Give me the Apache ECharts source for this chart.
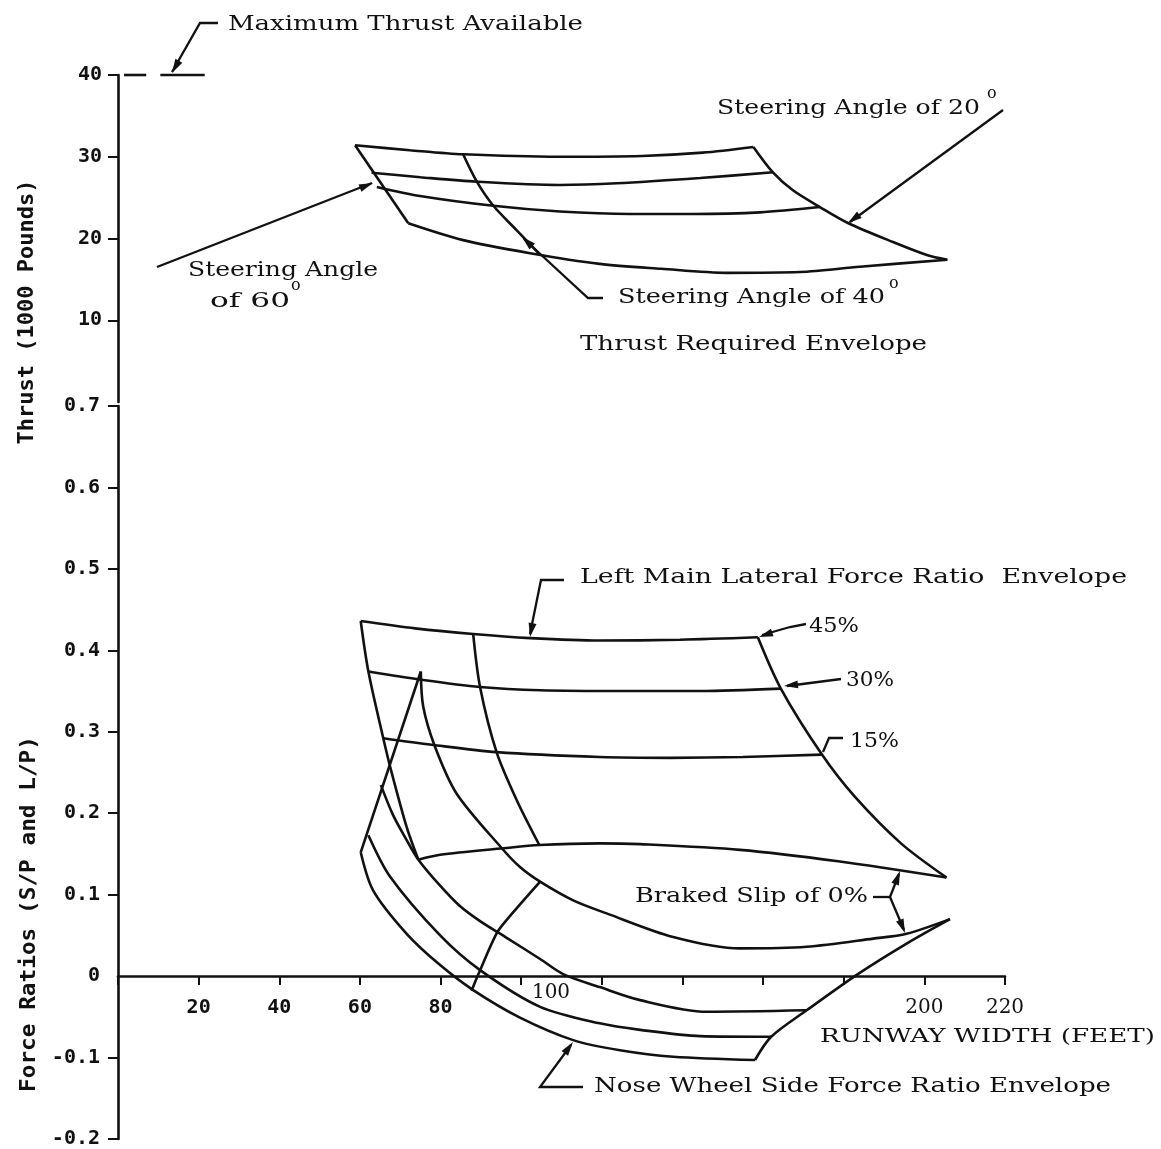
<!DOCTYPE html>
<html>
<head>
<meta charset="utf-8">
<title>Thrust and force ratio envelopes vs runway width</title>
<script src="https://cdn.jsdelivr.net/npm/echarts@6/dist/echarts.min.js"></script>
<style>
  html, body { margin: 0; background: #fff; }
  #main { width: 1161px; height: 1149px; }
</style>
</head>
<body>
<div id="main"></div>
<script>
// ---- axis ticks / labels ----
var thrustTicks = [10, 20, 30, 40];
var ratioTicks = [-0.2, -0.1, 0.1, 0.2, 0.3, 0.4, 0.5, 0.6, 0.7];
var ratioLabels = [-0.2, -0.1, 0, 0.1, 0.2, 0.3, 0.4, 0.5, 0.6, 0.7];
var widthLabels = [20, 40, 60, 80, 200, 220];
var widthLabelOffset = 100; // printed a bit off its tick in the original

// ---- thrust required envelope: [runway width ft, thrust 1000 lb] ----
var maxThrustDash = [[1.5, 40], [7, 40]];
var maxThrustSolid = [[10.5, 40], [21.5, 40]];
var thrustA = [[58.8, 31.4], [72.4, 30.8], [85.6, 30.3], [109.6, 30.0], [130, 30.1], [145, 30.5], [157.6, 31.2]];
var thrustB = [[62.9, 28.05], [75, 27.5], [89.0, 26.95], [109.6, 26.55], [123.7, 26.75], [144.4, 27.4], [162.5, 28.1]];
var thrustC = [[64.2, 26.3], [74.9, 25.2], [93.1, 24.0], [109.6, 23.3], [127, 23.0], [142.6, 23.0], [159.2, 23.2], [174.1, 23.85]];
var thrustD = [[72.0, 21.86], [85.6, 19.8], [102.2, 18.2], [119.5, 16.9], [134.7, 16.3], [151, 15.8], [169.2, 15.9], [184, 16.55], [205.7, 17.4]];
var steer60 = [[58.8, 31.4], [72.0, 21.86]];
var steer40 = [[85.6, 30.3], [89.0, 26.95], [93.1, 24.0], [98.9, 21.0], [104.7, 18.0]];
var steer20 = [[157.6, 31.2], [162.5, 28.05], [167.4, 25.9], [174.1, 23.85], [181.05, 21.9], [192.2, 19.57], [200.6, 17.98], [205.7, 17.4]];

// ---- left main lateral force ratio envelope: [runway width ft, ratio] ----
var lat45 = [[60.2, 0.436], [73.7, 0.427], [88.1, 0.420], [102.2, 0.415], [119.5, 0.412], [139.4, 0.413], [158.7, 0.416]];
var lat30 = [[62.1, 0.374], [75.1, 0.364], [89.8, 0.355], [104.7, 0.351], [125.5, 0.350], [144.4, 0.350], [164.4, 0.353]];
var lat15 = [[65.8, 0.292], [77.8, 0.284], [93.9, 0.275], [119.5, 0.269], [136.9, 0.268], [155, 0.269], [174.6, 0.272]];
var latSlip0 = [[74.5, 0.143], [79.9, 0.149], [95.6, 0.157], [104.5, 0.161], [119.5, 0.163], [129.5, 0.162], [154.3, 0.155], [178.6, 0.141], [205.5, 0.121]];
var latLeft = [[60.2, 0.436], [62.1, 0.374], [65.8, 0.292], [67.5, 0.257], [71.6, 0.183], [74.5, 0.143]];
var latMid = [[88.1, 0.420], [89.8, 0.355], [93.9, 0.275], [98.9, 0.216], [104.5, 0.161]];
var latRight = [[158.7, 0.416], [164.4, 0.353], [174.6, 0.272], [182.8, 0.220], [194.2, 0.163], [205.5, 0.121]];

// ---- nose wheel side force ratio envelope ----
var noseLeg = [[75.1, 0.374], [60.2, 0.152]];
var noseSlip0 = [[75.1, 0.374], [75.7, 0.331], [78.6, 0.282], [84.0, 0.224], [95.2, 0.157], [99.7, 0.134], [104.7, 0.116], [112.9, 0.093], [121.2, 0.077], [137.7, 0.048], [154.3, 0.034], [170.8, 0.036], [187.3, 0.046], [195.6, 0.052], [206.35, 0.070]];
var noseArc1 = [[65.2, 0.2345], [68.2, 0.198], [71.6, 0.167], [74.5, 0.143], [79.9, 0.111], [84.8, 0.086], [89.8, 0.0675], [96.5, 0.0467], [104.7, 0.021], [110.4, 0.0025], [119.5, -0.0135], [129.5, -0.0295], [146.0, -0.0438], [170.8, -0.042]];
var noseArc2 = [[62.1, 0.173], [67.5, 0.122], [79.9, 0.050], [89.8, 0.0074], [104.7, -0.0377], [119.5, -0.058], [129.5, -0.066], [144.4, -0.0737], [162.0, -0.0745]];
var noseArc3 = [[60.2, 0.152], [63.3, 0.105], [71.6, 0.052], [79.9, 0.0135], [88.1, -0.0172], [99.7, -0.051], [112.9, -0.0786], [124.5, -0.091], [137.7, -0.099], [158.0, -0.103]];
var noseRight = [[206.35, 0.070], [195.6, 0.040], [183.5, 0.0025], [170.8, -0.042], [162.0, -0.0745], [158.0, -0.103]];
var noseSteer = [[104.7, 0.116], [96.4, 0.069], [93.9, 0.0524], [89.4, 0.0025], [87.7, -0.018]];

var INK = '#111';
var MONO = "'DejaVu Sans Mono'";
var SERIF = "'DejaVu Serif'";

// lower panel geometry: 0.7 at the top, -0.2 at the bottom
var RATIO_TOP = 406, RATIO_H = 733;
var zeroLift = RATIO_H * 0.2 / 0.9; // distance from panel bottom up to the zero line

var chart = echarts.init(document.getElementById('main'));

function curve(data, idx, smooth) {
  return {
    type: 'line', xAxisIndex: idx, yAxisIndex: idx, data: data,
    smooth: smooth === undefined ? 0.3 : smooth,
    symbol: 'none', clip: false, silent: true,
    lineStyle: { color: INK, width: 2.6 }
  };
}

// text stretched to the width it has in the original scan
var measureCtx = document.createElement('canvas').getContext('2d');
function label(str, left, cy, width, size, family, weight) {
  var font = (weight || 'normal') + ' ' + size + 'px ' + family;
  measureCtx.font = font;
  var w = measureCtx.measureText(str).width;
  return {
    type: 'text', x: left, y: cy, scaleX: width ? width / w : 1, silent: true,
    style: { text: str, x: 0, y: 0, font: font, fill: INK,
      align: 'left', verticalAlign: 'middle', textAlign: 'left', textVerticalAlign: 'middle' }
  };
}
function vlabel(str, cx, cy, length, size) {
  var font = 'bold ' + size + 'px ' + MONO;
  measureCtx.font = font;
  var w = measureCtx.measureText(str).width;
  return {
    type: 'text', x: cx, y: cy, rotation: Math.PI / 2, scaleX: length / w, silent: true,
    style: { text: str, x: 0, y: 0, font: font, fill: INK,
      align: 'center', verticalAlign: 'middle', textAlign: 'center', textVerticalAlign: 'middle' }
  };
}
function leader(points) {
  return { type: 'polyline', silent: true, shape: { points: points },
    style: { stroke: INK, lineWidth: 2.3, fill: null } };
}
function arrow(tip, from) {
  var dx = tip[0] - from[0], dy = tip[1] - from[1];
  var d = Math.sqrt(dx * dx + dy * dy), ux = dx / d, uy = dy / d;
  var bx = tip[0] - ux * 14, by = tip[1] - uy * 14, h = 4;
  return { type: 'polygon', silent: true,
    shape: { points: [tip, [bx - uy * h, by + ux * h], [bx + uy * h, by - ux * h]] },
    style: { fill: INK } };
}

var graphics = [
  // axis titles
  vlabel('Thrust (1000 Pounds)', 27, 312, 265, 22),
  vlabel('Force Ratios (S/P and L/P)', 29, 914, 356, 22),
  // maximum thrust
  leader([[218, 23], [200, 23], [172, 72]]), arrow([172, 73], [186, 48]),
  label('Maximum Thrust Available', 228, 25, 355, 20, SERIF),
  // steering angle 20
  label('Steering Angle of 20', 717, 109, 263, 20, SERIF),
  label('o', 987, 94, 0, 16, SERIF),
  leader([[1003, 110], [850, 222]]), arrow([848, 223], [880, 200]),
  // steering angle 60
  label('Steering Angle', 188, 271, 190, 20, SERIF),
  label('of 60', 210, 302, 80, 20, SERIF),
  label('o', 291, 286, 0, 16, SERIF),
  leader([[157, 267], [372, 183]]), arrow([373, 183], [340, 196]),
  // steering angle 40
  label('Steering Angle of 40', 618, 298, 267, 20, SERIF),
  label('o', 889, 284, 0, 16, SERIF),
  leader([[603, 298], [588, 298], [524, 239]]), arrow([522, 237], [550, 263]),
  label('Thrust Required Envelope', 580, 345, 347, 20, SERIF),
  // lateral force envelope
  label('Left Main Lateral Force Ratio  Envelope', 580, 578, 547, 20, SERIF),
  leader([[564, 580], [541, 580], [530, 634]]), arrow([530, 637], [535, 610]),
  label('45%', 809, 627, 50, 20, SERIF),
  leader([[806, 624], [790, 627], [762, 635]]), arrow([759, 637], [780, 630]),
  label('30%', 846, 681, 48, 20, SERIF),
  leader([[841, 679], [787, 686]]), arrow([784, 686], [810, 683]),
  label('15%', 850, 742, 49, 20, SERIF),
  leader([[843, 738], [829, 738], [823, 752]]),
  label('Braked Slip of 0%', 635, 897, 233, 20, SERIF),
  leader([[873, 897], [890, 897]]),
  leader([[890, 897], [899, 874]]), arrow([900, 871], [893, 890]),
  leader([[890, 897], [904, 930]]), arrow([905, 933], [897, 913]),
  // nose wheel envelope
  label('Nose Wheel Side Force Ratio Envelope', 594, 1087, 517, 20, SERIF),
  leader([[583, 1087], [540, 1087], [571, 1045]]), arrow([573, 1042], [560, 1060]),
  label('RUNWAY WIDTH (FEET)', 820, 1037, 335, 19, SERIF),
  // the 100 label sits off its tick
  { type: 'text', x: 551, y: 993, silent: true,
    style: { text: String(widthLabelOffset), font: '20px ' + SERIF, fill: INK,
      align: 'center', verticalAlign: 'middle', textAlign: 'center', textVerticalAlign: 'middle' } }
];

function axisLine(onZero) {
  return { show: true, onZero: onZero, lineStyle: { color: INK, width: 2.6 } };
}

var option = {
  animation: false,
  backgroundColor: '#fff',
  grid: [
    { left: 118, top: 75, width: 887, height: 327, outerBoundsMode: 'none', containLabel: false },
    { left: 118, top: RATIO_TOP, width: 887, height: RATIO_H, outerBoundsMode: 'none', containLabel: false }
  ],
  xAxis: [
    { gridIndex: 0, type: 'value', min: 0, max: 220, show: false },
    { gridIndex: 1, type: 'value', min: 0, max: 220, interval: 20,
      position: 'bottom', offset: -zeroLift,
      axisLine: axisLine(false),
      axisTick: { show: true, length: 9, lineStyle: { color: INK, width: 2 } },
      axisLabel: { customValues: widthLabels, margin: 22, color: INK,
        formatter: function (v) { return v >= 200 ? '{b|' + v + '}' : '{a|' + v + '}'; },
        rich: {
          a: { fontFamily: MONO, fontWeight: 'bold', fontSize: 20, color: INK },
          b: { fontFamily: SERIF, fontSize: 20, color: INK }
        } },
      splitLine: { show: false } }
  ],
  yAxis: [
    { gridIndex: 0, type: 'value', min: 0, max: 40, interval: 10,
      axisLine: axisLine(false),
      axisTick: { show: true, customValues: thrustTicks, length: 10, lineStyle: { color: INK, width: 2 } },
      axisLabel: { customValues: thrustTicks, margin: 16, fontFamily: MONO, fontWeight: 'bold', fontSize: 20, color: INK },
      splitLine: { show: false } },
    { gridIndex: 1, type: 'value', min: -0.2, max: 0.7, interval: 0.1,
      axisLine: axisLine(false),
      axisTick: { show: true, customValues: ratioTicks, length: 10, lineStyle: { color: INK, width: 2 } },
      axisLabel: { customValues: ratioLabels, margin: 18, fontFamily: MONO, fontWeight: 'bold', fontSize: 20, color: INK,
        formatter: function (v) { return Math.abs(v) < 1e-9 ? '0' : v.toFixed(1); } },
      splitLine: { show: false } }
  ],
  series: [
    curve(maxThrustSolid, 0, false),
    curve(maxThrustDash, 0, false),
    curve(thrustA, 0), curve(thrustB, 0), curve(thrustC, 0), curve(thrustD, 0),
    curve(steer60, 0, false), curve(steer40, 0), curve(steer20, 0),
    curve(lat45, 1), curve(lat30, 1), curve(lat15, 1), curve(latSlip0, 1),
    curve(latLeft, 1), curve(latMid, 1), curve(latRight, 1),
    curve(noseLeg, 1, false), curve(noseSlip0, 1), curve(noseArc1, 1),
    curve(noseArc2, 1), curve(noseArc3, 1), curve(noseRight, 1), curve(noseSteer, 1)
  ],
  graphic: { elements: graphics }
};

chart.setOption(option);
</script>
</body>
</html>
